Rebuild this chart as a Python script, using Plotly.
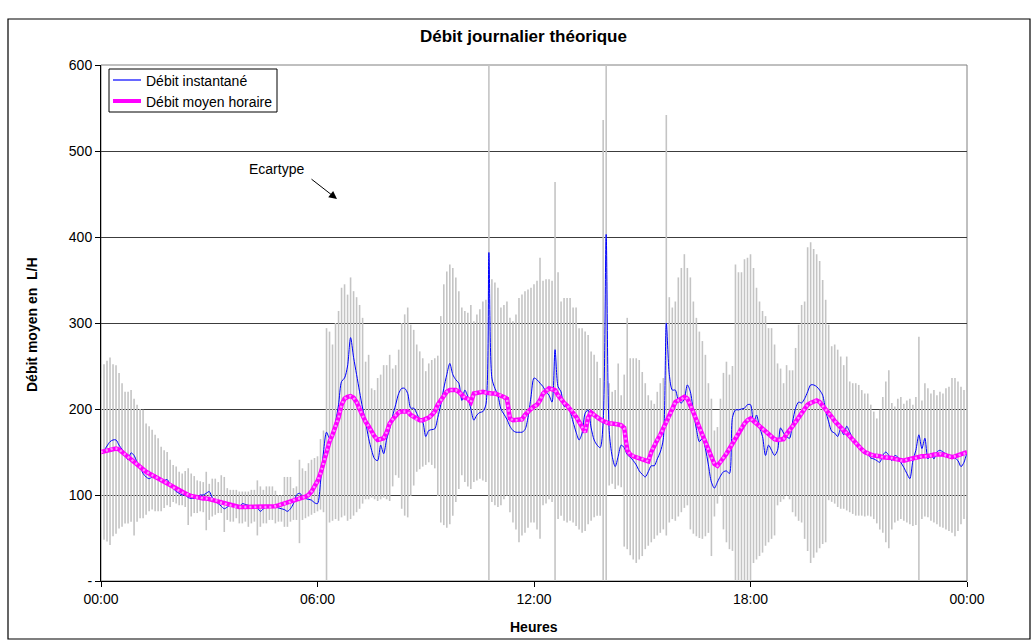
import plotly.graph_objects as go

# Relevés toutes les 5 minutes sur 24 h (289 points, de 00:00 à 24:00)
PAS_MIN = 5
heures = [i * PAS_MIN / 60 for i in range(24 * 12 + 1)]

# Débit instantané (L/H)
debit_instantane = [
    150, 152, 157, 162, 164, 164, 158, 153, 148, 141, 149, 146,
    138, 133, 125, 121, 119, 121, 123, 121, 119, 117, 118, 112,
    108, 104, 102, 100, 100, 97, 96, 96, 98, 100, 100, 102,
    104, 97, 93, 90, 87, 84, 86, 88, 87, 86, 86, 90,
    89, 88, 87, 86, 85, 81, 84, 86, 86, 86, 86, 85,
    84, 83, 81, 84, 90, 100, 102, 99, 96, 95, 94, 91,
    90, 115, 150, 173, 166, 172, 185, 205, 232, 236, 250, 283,
    260, 240, 220, 201, 185, 166, 152, 142, 140, 158, 148, 165,
    177, 192, 205, 218, 224, 224, 218, 201, 201, 195, 188, 185,
    168, 175, 176, 177, 190, 205, 224, 240, 253, 240, 234, 230,
    210, 222, 214, 200, 187, 193, 196, 197, 205, 382, 236, 224,
    216, 200, 194, 188, 180, 175, 173, 173, 173, 176, 190, 214,
    236, 234, 230, 226, 220, 216, 208, 269, 226, 220, 203, 203,
    197, 185, 173, 164, 172, 195, 199, 178, 164, 158, 155, 185,
    403, 175, 145, 133, 145, 158, 155, 147, 144, 140, 135, 128,
    124, 121, 127, 134, 134, 142, 150, 165, 300, 240, 222, 222,
    210, 207, 212, 228, 220, 197, 177, 162, 166, 154, 135, 115,
    108, 115, 122, 127, 128, 125, 190, 199, 199, 200, 201, 205,
    205, 183, 193, 179, 168, 146, 158, 152, 146, 152, 178, 172,
    168, 166, 185, 201, 208, 207, 212, 220, 228, 228, 226, 222,
    216, 198, 185, 174, 172, 168, 177, 170, 180, 173, 166, 160,
    157, 152, 148, 147, 143, 142, 140, 138, 146, 150, 146, 140,
    146, 144, 138, 132, 125, 119, 140, 152, 170, 154, 166, 142,
    148, 142, 150, 152, 150, 148, 146, 146, 143, 140, 133, 138, 150,
]

# Débit moyen horaire (L/H)
debit_moyen_horaire = [
    150, 151, 152, 153, 154, 154, 153, 150, 147, 144, 141, 139,
    136, 133, 130, 127, 125, 123, 121, 120, 118, 116, 114, 112,
    109, 107, 105, 103, 102, 100, 99, 98, 97, 97, 96, 96,
    95, 95, 94, 93, 91, 90, 89, 88, 87, 86, 86, 86,
    86, 86, 86, 86, 86, 86, 86, 86, 86, 86, 87, 88,
    89, 90, 91, 92, 94, 95, 96, 97, 98, 100, 104, 110,
    116, 125, 137, 152, 162, 170, 180, 190, 205, 212, 214, 215,
    213, 208, 200, 192, 185, 180, 173, 168, 164, 165, 166, 173,
    183, 188, 193, 196, 197, 197, 197, 193, 191, 188, 187, 187,
    188, 190, 193, 197, 205, 210, 216, 220, 222, 222, 222, 220,
    216, 213, 212, 208, 218, 219, 220, 220, 219, 218, 218, 218,
    217, 216, 214, 212, 189, 187, 187, 187, 188, 193, 197, 200,
    203, 205, 210, 218, 221, 224, 223, 222, 216, 211, 207, 204,
    200, 197, 191, 185, 178, 173, 190, 196, 193, 190, 188, 186,
    184, 183, 183, 183, 182, 181, 178, 152, 147, 145, 144, 143,
    142, 141, 139, 150, 158, 164, 170, 177, 184, 191, 200, 208,
    210, 211, 214, 212, 205, 196, 187, 178, 170, 160, 152, 144,
    136, 134, 138, 143, 148, 154, 160, 167, 173, 179, 183, 187,
    189, 186, 183, 180, 177, 173, 170, 167, 165, 164, 164, 165,
    171, 175, 180, 185, 190, 195, 200, 205, 207, 209, 210, 208,
    204, 200, 196, 191, 186, 182, 178, 175, 172, 168, 164, 160,
    156, 153, 150, 148, 147, 146, 146, 145, 144, 144, 143, 143,
    142, 141, 140, 140, 141, 142, 142, 143, 144, 145, 145, 145,
    146, 147, 147, 148, 147, 146, 145, 144, 145, 146, 147, 148, 150,
]

# Ecart-type : borne haute et borne basse de chaque relevé (L/H)
ecart_haut = [
    236, 252, 256, 260, 252, 251, 242, 230, 220, 220, 222, 212,
    205, 200, 199, 183, 180, 176, 170, 166, 156, 152, 150, 141,
    135, 133, 127, 125, 128, 131, 125, 122, 117, 116, 115, 127,
    113, 119, 119, 115, 123, 121, 108, 106, 106, 106, 104, 104,
    104, 104, 106, 106, 117, 110, 106, 110, 110, 110, 105, 100,
    100, 121, 121, 121, 108, 110, 141, 131, 128, 137, 141, 143,
    145, 165, 175, 294, 290, 275, 300, 314, 341, 345, 333, 353,
    337, 330, 321, 306, 255, 263, 224, 222, 236, 240, 251, 251,
    263, 247, 251, 269, 300, 310, 318, 298, 292, 275, 267, 259,
    244, 253, 257, 259, 262, 308, 345, 360, 368, 364, 353, 337,
    318, 314, 312, 321, 302, 310, 316, 325, 327, 620, 351, 347,
    341, 318, 321, 325, 306, 302, 310, 329, 333, 337, 339, 341,
    345, 349, 376, 349, 351, 351, 349, 464, 359, 325, 329, 329,
    329, 318, 318, 294, 294, 290, 286, 267, 263, 255, 236, 536,
    620, 230, 220, 222, 253, 216, 240, 306, 259, 259, 259, 257,
    243, 230, 216, 210, 206, 220, 230, 236, 542, 330, 318, 325,
    353, 364, 380, 364, 353, 325, 306, 290, 279, 263, 230, 212,
    175, 179, 212, 242, 255, 240, 250, 368, 359, 359, 374, 376,
    380, 364, 341, 325, 314, 308, 294, 294, 275, 253, 247, 230,
    251, 245, 245, 271, 298, 321, 325, 388, 394, 386, 380, 372,
    350, 327, 298, 273, 275, 269, 261, 251, 261, 232, 230, 230,
    228, 222, 218, 218, 205, 197, 189, 199, 214, 232, 245, 207,
    203, 212, 214, 206, 210, 212, 205, 214, 284, 210, 230, 224,
    218, 222, 216, 220, 218, 224, 226, 236, 236, 232, 226, 222, 220,
]

ecart_bas = [
    62, 48, 46, 42, 52, 55, 61, 63, 67, 67, 69, 53,
    69, 73, 73, 77, 81, 83, 81, 81, 81, 85, 88, 86,
    92, 90, 88, 88, 86, 65, 75, 79, 79, 81, 80, 59,
    71, 75, 77, 79, 79, 57, 71, 69, 69, 73, 67, 67,
    69, 63, 67, 69, 53, 63, 67, 67, 71, 71, 67, 69,
    69, 63, 63, 69, 71, 71, 44, 71, 73, 75, 77, 79,
    81, 83, 80, 0, 68, 70, 72, 70, 74, 76, 70, 72,
    76, 80, 84, 90, 95, 95, 97, 95, 93, 95, 97, 95,
    93, 110, 123, 120, 84, 76, 74, 99, 111, 127, 130, 133,
    135, 138, 135, 131, 99, 68, 65, 62, 66, 76, 92, 107,
    123, 115, 110, 107, 115, 117, 119, 117, 115, 0, 92, 88,
    86, 88, 95, 99, 80, 68, 60, 45, 53, 56, 62, 68,
    68, 60, 49, 88, 90, 95, 92, 0, 72, 76, 70, 68,
    70, 68, 64, 60, 56, 58, 66, 70, 74, 76, 76, 0,
    0, 111, 113, 107, 111, 109, 40, 37, 30, 25, 21, 25,
    29, 37, 41, 45, 49, 53, 56, 60, 53, 68, 72, 70,
    75, 80, 85, 88, 60, 55, 52, 50, 49, 52, 56, 29,
    75, 90, 99, 60, 45, 37, 35, 0, 0, 0, 0, 0,
    0, 21, 25, 29, 33, 41, 45, 49, 53, 88, 92, 95,
    99, 95, 80, 75, 70, 68, 49, 35, 21, 27, 33, 38,
    43, 45, 94, 92, 90, 86, 84, 84, 82, 80, 78, 76,
    76, 76, 75, 76, 75, 72, 67, 60, 56, 45, 38, 60,
    68, 70, 72, 70, 68, 66, 64, 65, 0, 72, 75, 74,
    70, 68, 66, 63, 62, 60, 58, 56, 52, 58, 66, 72, 75,
]

# Graduations
x_ticks = [0, 6, 12, 18, 24]
x_labels = ["00:00", "06:00", "12:00", "18:00", "00:00"]
y_ticks = [0, 100, 200, 300, 400, 500, 600]
y_labels = ["-", "100", "200", "300", "400", "500", "600"]

FONT = "Liberation Sans, Arial, sans-serif"
W, H = 1033, 643
# zone de tracé en pixels
PX0, PX1, PY0, PY1 = 101, 967, 65, 581

BLEU = "#0000ff"
MAGENTA = "#ff00ff"


def px_x(px):
    return (px - PX0) / (PX1 - PX0)


def px_y(py):
    return (PY1 - py) / (PY1 - PY0)


# Segments verticaux de l'écart-type
seg_x, seg_y = [], []
for t, lo, hi in zip(heures, ecart_bas, ecart_haut):
    seg_x += [t, t, None]
    seg_y += [lo, hi, None]

fig = go.Figure()

fig.add_trace(go.Scatter(
    x=seg_x, y=seg_y, mode="lines", name="Ecartype",
    line=dict(color="#c4c4c4", width=1.6),
    showlegend=False, hoverinfo="skip",
))

fig.add_trace(go.Scatter(
    x=heures, y=debit_instantane, mode="lines", name="Débit instantané",
    line=dict(color=BLEU, width=1, shape="spline", smoothing=0.8),
    showlegend=False,
))

fig.add_trace(go.Scatter(
    x=heures, y=debit_moyen_horaire, mode="lines", name="Débit moyen horaire",
    line=dict(color=MAGENTA, width=4.5),
    showlegend=False,
))
# motif clair sur la courbe moyenne
fig.add_trace(go.Scatter(
    x=heures, y=debit_moyen_horaire, mode="lines",
    line=dict(color="#ff8cff", width=2.5, dash="2px,3px"),
    showlegend=False, hoverinfo="skip",
))


def legende_ligne(py, couleur, epaisseur):
    return dict(type="line", xref="paper", yref="paper",
                x0=px_x(113), x1=px_x(141), y0=px_y(py), y1=px_y(py),
                line=dict(color=couleur, width=epaisseur), layer="above")


def legende_texte(texte, py):
    return dict(text=texte, xref="paper", yref="paper",
                x=px_x(144), y=px_y(py), showarrow=False,
                xanchor="left", yanchor="middle",
                font=dict(family=FONT, size=14, color="black"))


ESP = "\u00a0"

fig.update_layout(
    width=W, height=H,
    margin=dict(l=PX0, r=W - PX1, t=PY0, b=H - PY1, pad=0),
    paper_bgcolor="white", plot_bgcolor="white",
    font=dict(family=FONT, size=14, color="black"),
    showlegend=False,
    xaxis=dict(
        range=[0, 24], tickvals=x_ticks, ticktext=x_labels,
        showgrid=False, zeroline=False,
        showline=True, linecolor="black", linewidth=1,
        ticks="outside", ticklen=5, tickcolor="black",
        tickfont=dict(family=FONT, size=14, color="black"),
    ),
    yaxis=dict(
        range=[0, 600], tickvals=y_ticks, ticktext=y_labels,
        showgrid=True, gridcolor="#3c3c3c", gridwidth=1,
        zeroline=False,
        showline=True, linecolor="black", linewidth=1,
        ticks="outside", ticklen=5, tickcolor="black",
        tickfont=dict(family=FONT, size=14, color="black"),
    ),
    shapes=[
        # cadre de la zone de tracé
        dict(type="rect", xref="paper", yref="paper", x0=0, x1=1, y0=0, y1=1,
             line=dict(color="#808080", width=1), layer="below"),
        # cadre extérieur du graphique
        dict(type="rect", xref="paper", yref="paper",
             x0=px_x(8), x1=px_x(1030), y0=px_y(639), y1=px_y(19),
             line=dict(color="black", width=1.2), layer="above"),
        # légende
        dict(type="rect", xref="paper", yref="paper",
             x0=px_x(109), x1=px_x(277), y0=px_y(112), y1=px_y(69),
             line=dict(color="black", width=1), fillcolor="white", layer="above"),
        legende_ligne(80, BLEU, 1.2),
        legende_ligne(101, MAGENTA, 4),
    ],
    annotations=[
        dict(text="<b>Débit journalier théorique</b>", xref="paper", yref="paper",
             x=px_x(523), y=px_y(37), showarrow=False, xanchor="center", yanchor="middle",
             font=dict(family=FONT, size=17, color="black")),
        dict(text="<b>Heures</b>", xref="paper", yref="paper",
             x=px_x(534), y=px_y(627), showarrow=False, xanchor="center", yanchor="middle",
             font=dict(family=FONT, size=14, color="black")),
        dict(text="<b>Débit moyen en" + ESP * 2 + "L/H</b>", xref="paper", yref="paper",
             x=px_x(32), y=px_y(325), showarrow=False, textangle=-90,
             xanchor="center", yanchor="middle",
             font=dict(family=FONT, size=14, color="black")),
        dict(text="Ecartype", xref="paper", yref="paper",
             x=px_x(276), y=px_y(169), showarrow=False,
             xanchor="center", yanchor="middle",
             font=dict(family=FONT, size=14, color="black")),
        dict(text="", xref="paper", yref="paper",
             x=px_x(337), y=px_y(199), ax=-27, ay=-21,
             showarrow=True, arrowhead=2, arrowsize=1.6, arrowwidth=1,
             arrowcolor="black"),
        legende_texte("Débit instantané", 81),
        legende_texte("Débit moyen horaire", 102),
    ],
)

fig.write_html("out.html")
